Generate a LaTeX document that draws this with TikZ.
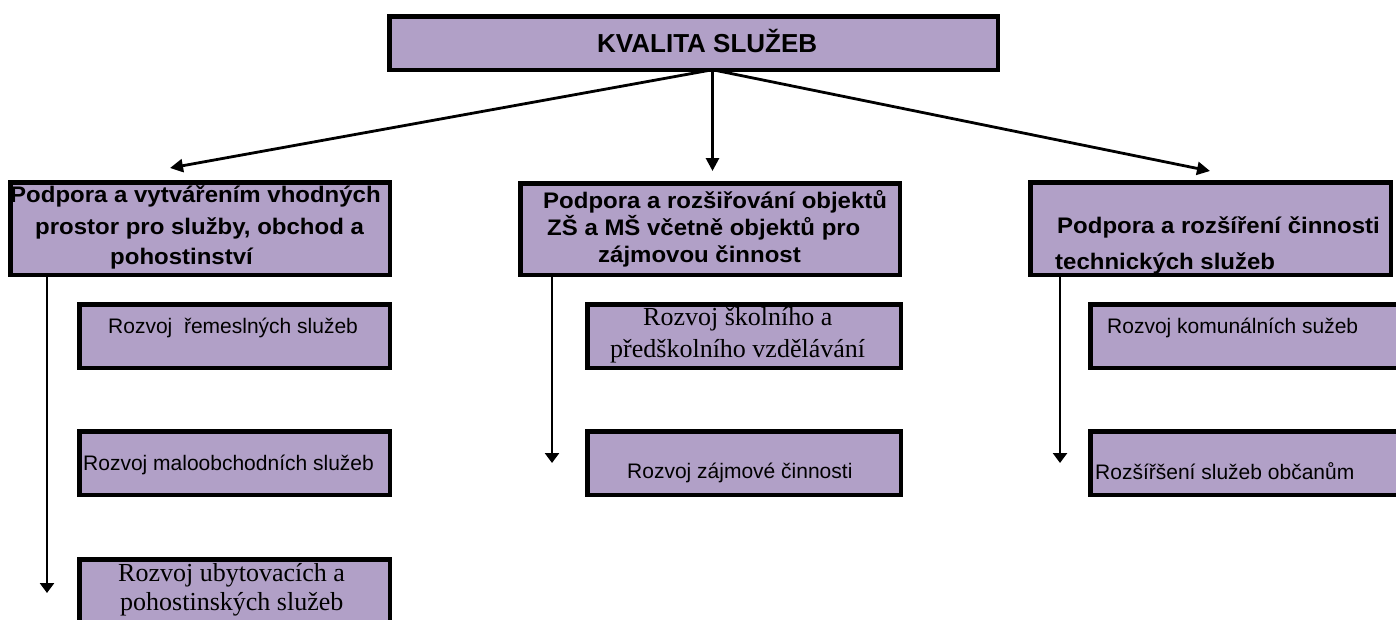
\documentclass[tikz,border=0pt]{standalone}
\usepackage{fontspec}
\setmainfont{Liberation Sans}
\newfontfamily\serifface{Liberation Serif}
\newfontfamily\hdrface[FakeStretch=1.066]{Liberation Sans}
\usetikzlibrary{arrows.meta}
\definecolor{boxfill}{RGB}{177,160,199}
\newcommand\mybox[5]{\node[box, minimum width={#4-#2-4.5}, minimum height={#5-#3-4.5}] (#1) at ({#2+2.25},{#3+2.25}) {};}
\begin{document}
\begin{tikzpicture}[x=1pt,y=-1pt,
  box/.style={draw=black, line width=4.5pt, fill=boxfill, inner sep=0pt, outer sep=0pt, anchor=north west},
  hdr/.style={font=\fontsize{22.5}{27}\selectfont\hdrface\bfseries, anchor=base west, inner sep=0pt},
  ttl/.style={font=\fontsize{26}{30}\selectfont\bfseries, anchor=base west, inner sep=0pt},
  sub/.style={font=\fontsize{21}{25}\selectfont, anchor=base west, inner sep=0pt},
  ser/.style={font=\fontsize{26}{30}\selectfont\serifface, anchor=base west, inner sep=0pt},
  conn/.style={line width=2.8pt, -{Triangle[length=13pt,width=13pt]}},
  vconn/.style={line width=2.8pt, -{Triangle[length=10pt,width=14pt]}}
]
\useasboundingbox (0,0) rectangle (1396,619);
\clip (0,0) rectangle (1396,619);

% top
\mybox{top}{387}{14}{1000}{72}
\node[ttl] (t0) at (597,52) {KVALITA SLUŽEB};

% headers
\mybox{h1}{8}{180}{392}{277}
\node[hdr] (h1a) at (10,202) {Podpora a vytvářením vhodných};
\node[hdr] (h1b) at (35,234) {prostor pro služby, obchod a};
\node[hdr] (h1c) at (110,264) {pohostinství};

\mybox{h2}{518}{181}{902}{277}
\node[hdr] (h2a) at (543,208) {Podpora a rozšiřování objektů};
\node[hdr] (h2b) at (547,235) {ZŠ a MŠ včetně objektů pro};
\node[hdr] (h2c) at (598,262) {zájmovou činnost};

\mybox{h3}{1028}{180}{1393}{277}
\node[hdr] (h3a) at (1057,233) {Podpora a rozšíření činnosti};
\node[hdr] (h3b) at (1055,269) {technických služeb};

% left column
\mybox{b1}{77}{302}{392}{370}
\node[sub] (b1t) at (108,333) {Rozvoj \ řemeslných služeb};
\mybox{b2}{77}{429}{392}{497}
\node[sub] (b2t) at (83,470) {Rozvoj maloobchodních služeb};
\mybox{b3}{77}{557}{392}{640}
\node[ser] (b3a) at (118,581) {Rozvoj ubytovacích a};
\node[ser] (b3b) at (120,610) {pohostinských služeb};

% middle column
\mybox{b4}{585}{302}{903}{370}
\node[ser] (b4a) at (643,325) {Rozvoj školního a};
\node[ser] (b4b) at (610,357) {předškolního vzdělávání};
\mybox{b5}{585}{429}{903}{497}
\node[sub] (b5t) at (627,478) {Rozvoj zájmové činnosti};

% right column
\mybox{b6}{1088}{302}{1410}{370}
\node[sub] (b6t) at (1107,333) {Rozvoj komunálních sužeb};
\mybox{b7}{1088}{429}{1410}{497}
\node[sub] (b7t) at (1095,479) {Rozšířšení služeb občanům};

% connectors
\coordinate (tipL) at (170,168);
\coordinate (tipM) at (712.5,171);
\coordinate (tipR) at (1210,171);
\coordinate (hub) at (top.south -| tipM);
\draw[conn] (hub) -- (tipL);
\draw[conn] (hub) -- (tipM);
\draw[conn] (hub) -- (tipR);

\coordinate (aL) at (47,593);
\coordinate (aM) at (552,463);
\coordinate (aR) at (1060,463);
\draw[vconn] (h1.south -| aL) -- (aL);
\draw[vconn] (h2.south -| aM) -- (aM);
\draw[vconn] (h3.south -| aR) -- (aR);
\end{tikzpicture}
\end{document}
